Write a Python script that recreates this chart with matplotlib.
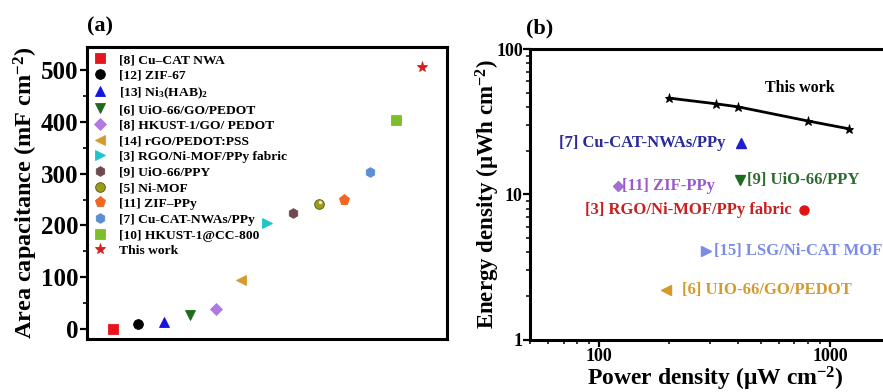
import numpy as np
import matplotlib
matplotlib.use('Agg')
import matplotlib.pyplot as plt

plt.rcParams['font.family'] = ['Liberation Serif', 'DejaVu Serif']
plt.rcParams['font.weight'] = 'bold'
plt.rcParams['mathtext.fontset'] = 'custom'
plt.rcParams['mathtext.rm'] = 'Liberation Serif:bold'
plt.rcParams['mathtext.bf'] = 'Liberation Serif:bold'
plt.rcParams['mathtext.it'] = 'Liberation Serif:bold:italic'
plt.rcParams['mathtext.default'] = 'rm'

# (a) areal capacitance of reported MOF electrodes
cap_labels = ["[8] Cu\u2013CAT NWA", "[12] ZIF-67", "[13] Ni$_3$(HAB)$_2$",
              "[6] UiO-66/GO/PEDOT", "[8] HKUST-1/GO/ PEDOT", "[14] rGO/PEDOT:PSS",
              "[3] RGO/Ni-MOF/PPy fabric", "[9] UiO-66/PPY", "[5] Ni-MOF",
              "[11] ZIF\u2013PPy", "[7] Cu-CAT-NWAs/PPy", "[10] HKUST-1@CC-800",
              "This work"]
cap_values = [0, 10, 14, 27, 38, 94, 205, 224, 242, 250, 303, 404, 507]
cap_markers = ['s', 'o', '^', 'v', 'D', '<', '>', 'h', 'o', 'p', 'h', 's', '*']
cap_colors = ['#e8141b', '#000000', '#1414e0', '#1e6b1e', '#b07ae0', '#d49a2c',
              '#1fc4c8', '#6e4a4f', '#9a9a1e', '#f26522', '#5b8fd0', '#7dbe2a',
              '#d42020']
cap_sizes = [7, 7, 7, 7, 6, 7, 7, 7, 7, 8, 7, 7, 8]

# (b) Ragone plot
work_power = [200, 320, 400, 800, 1200]
work_energy = [46, 42, 40, 32, 28.3]
ref_labels = ["[7] Cu-CAT-NWAs/PPy", "[11] ZIF-PPy", "[9] UiO-66/PPY",
              "[3] RGO/Ni-MOF/PPy fabric", "[15] LSG/Ni-CAT MOF", "[6] UIO-66/GO/PEDOT"]
ref_power = [410, 120, 405, 770, 290, 195]
ref_energy = [22.7, 11.5, 12.6, 7.8, 4.1, 2.2]
ref_markers = ['^', 'D', 'v', 'o', '>', '<']
ref_colors = ['#1f1fd0', '#a070d0', '#1e6b1e', '#e01414', '#7b8be8', '#d49a2c']
ref_text_colors = ['#2a2a9a', '#9a5ac8', '#2e6b2e', '#c82020', '#7b8be8', '#d49a2c']
ref_text_x = [351, 126, 437, 684, 315, 229]
ref_text_ha = ['right', 'left', 'left', 'right', 'left', 'left']

fig = plt.figure(figsize=(8.83, 3.92), dpi=100)
ax1 = fig.add_axes([0.0985, 0.135, 0.408, 0.745])
ax2 = fig.add_axes([0.600, 0.133, 0.419, 0.742])

x = np.arange(1, len(cap_values) + 1)
for xi, v, m, c, s, lab in zip(x, cap_values, cap_markers, cap_colors, cap_sizes, cap_labels):
    ax1.plot(xi, v, linestyle='none', marker=m, color=c, markersize=s,
             markeredgecolor=c if c != '#9a9a1e' else '#5a5a10',
             markeredgewidth=0.6, label=lab)
# highlight on the Ni-MOF sphere
ax1.plot(x[8] + 0.05, cap_values[8] + 3, linestyle='none', marker='o',
         markersize=2.5, color='#e8e8b0', markeredgewidth=0)

ax1.set_xlim(0, 14)
ax1.set_ylim(-20, 545)
ax1.set_xticks([])
ax1.set_yticks([0, 100, 200, 300, 400, 500])
ax1.set_yticks(np.arange(50, 550, 100), minor=True)
ax1.tick_params(axis='y', which='major', direction='out', length=5, width=1.6,
                labelsize=18, pad=1)
ax1.tick_params(axis='y', which='minor', direction='out', length=3, width=1.2)
ax1.set_ylabel("Area capacitance (mF cm$^{-2}$)", fontsize=17.5, fontweight='bold', labelpad=1)
for sp in ax1.spines.values():
    sp.set_linewidth(2.2)
ax1.legend(loc='upper left', frameon=False, labelspacing=0.24,
           handletextpad=0.9, handlelength=1.0, borderaxespad=0.2,
           borderpad=0.3, prop={'weight': 'bold', 'size': 9.7})
ax1.text(0.0, 1.035, "(a)", transform=ax1.transAxes, fontsize=16, fontweight='bold',
         ha='left', va='bottom')

ax2.plot(work_power, work_energy, color='black', linewidth=2, marker='*',
         markersize=6.5, markeredgewidth=0.6)
ax2.text(740, 54, "This work", fontsize=11.5, fontweight='bold', ha='center', va='center')
for p, e, m, c, tc, tx, ha, lab in zip(ref_power, ref_energy, ref_markers, ref_colors,
                                       ref_text_colors, ref_text_x, ref_text_ha, ref_labels):
    ax2.plot(p, e, linestyle='none', marker=m, color=c, markersize=6.5 if m != 'D' else 5.5)
    ax2.text(tx, e, lab, color=tc, fontsize=12, fontweight='bold', ha=ha, va='center')

ax2.set_xscale('log')
ax2.set_yscale('log')
ax2.set_xlim(50, 2000)
ax2.set_ylim(1, 100)
ax2.set_xticks([100, 1000])
ax2.set_xticklabels(["100", "1000"])
ax2.set_yticks([1, 10, 100])
ax2.set_yticklabels(["1", "10", "100"])
ax2.tick_params(which='major', direction='out', length=5, width=1.6, labelsize=13, pad=1)
ax2.tick_params(which='minor', direction='out', length=3, width=1.1)
ax2.tick_params(axis='y', pad=0)
ax2.set_xlabel("Power density (\u03bcW cm$^{-2}$)", fontsize=17, fontweight='bold', labelpad=0)
ax2.set_ylabel("Energy density (\u03bcWh cm$^{-2}$)", fontsize=16.5, fontweight='bold', labelpad=-4)
for sp in ax2.spines.values():
    sp.set_linewidth(2.2)
ax2.text(-0.01, 1.035, "(b)", transform=ax2.transAxes, fontsize=16, fontweight='bold',
         ha='left', va='bottom')

fig.savefig("out.png", dpi=100)
